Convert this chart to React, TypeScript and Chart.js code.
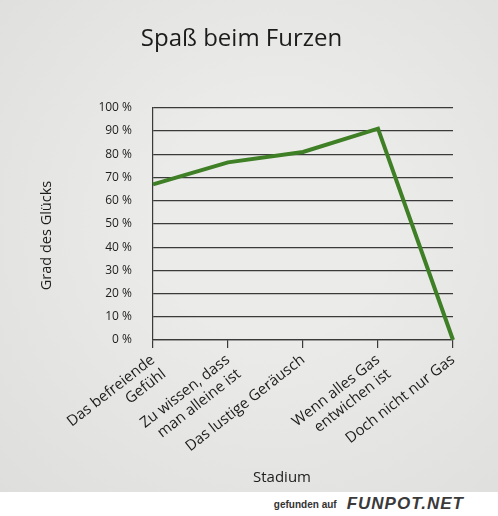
import { useEffect, useRef } from "react"
import { Chart, type ChartConfiguration, type Plugin, registerables } from "chart.js"

Chart.register(...registerables)

const stages: (string | string[])[] = [
  ["Das befreiende", "Gefühl"],
  ["Zu wissen, dass", "man alleine ist"],
  "Das lustige Geräusch",
  ["Wenn alles Gas", "entwichen ist"],
  "Doch nicht nur Gas",
]
const happiness = [67, 76.5, 81, 91, 0]
const yTicks = [0, 10, 20, 30, 40, 50, 60, 70, 80, 90, 100]
const xTitle = "Stadium"
const yTitle = "Grad des Glücks"

const FONT = "'Open Sans', 'Noto Sans', sans-serif"
const INK = "#1c1c1c"

// axis titles sit a little off-centre in the original, so draw them by hand
const axisTitles: Plugin = {
  id: "axisTitles",
  afterDraw(chart) {
    const { ctx, chartArea } = chart
    ctx.save()
    ctx.fillStyle = INK
    ctx.textAlign = "center"
    ctx.textBaseline = "middle"
    ctx.font = `15px ${FONT}`
    ctx.fillText(xTitle, chartArea.left + chartArea.width * 0.43, 478)
    ctx.translate(47, chartArea.top + chartArea.height * 0.55)
    ctx.rotate(-Math.PI / 2)
    ctx.font = `14.5px ${FONT}`
    ctx.fillText(yTitle, 0, 0)
    ctx.restore()
  },
}

export default function App() {
  const chartRef = useRef<HTMLCanvasElement>(null)
  const chartInstance = useRef<Chart | null>(null)

  useEffect(() => {
    if (!chartRef.current) return
    if (chartInstance.current) chartInstance.current.destroy()
    const ctx = chartRef.current.getContext("2d")
    if (!ctx) return

    const config: ChartConfiguration = {
      type: "line",
      data: {
        labels: stages,
        datasets: [
          {
            label: yTitle,
            data: happiness,
            borderColor: "#3f7f26",
            borderWidth: 4,
            pointRadius: 0,
            tension: 0,
          },
        ],
      },
      options: {
        animation: false,
        responsive: false,
        layout: { padding: { left: 30, right: 45, top: 0, bottom: 0 } },
        plugins: {
          legend: { display: false },
          tooltip: { enabled: false },
          title: {
            display: true,
            text: "Spaß beim Furzen",
            color: INK,
            font: { family: FONT, size: 24, weight: "normal" },
            padding: { top: 25, bottom: 54 },
          },
        },
        scales: {
          x: {
            offset: false,
            afterFit: (scale: any) => {
              scale.height = 152
            },
            grid: {
              drawOnChartArea: false,
              drawTicks: true,
              tickLength: 8,
              color: "#3a3a3a",
              lineWidth: 1.2,
            },
            border: { display: true, color: "#3a3a3a", width: 1.2 },
            ticks: {
              color: INK,
              font: { family: FONT, size: 15 },
              minRotation: 38,
              maxRotation: 38,
              autoSkip: false,
              padding: 3,
            },
          },
          y: {
            min: 0,
            max: 100,
            afterBuildTicks: (scale: any) => {
              scale.ticks = yTicks.map((v) => ({ value: v }))
            },
            afterFit: (scale: any) => {
              scale.width = 123
            },
            grid: {
              color: "#3a3a3a",
              lineWidth: 1.2,
              drawTicks: false,
            },
            border: { display: true, color: "#3a3a3a", width: 1.2 },
            ticks: {
              color: INK,
              font: { family: FONT, size: 12 },
              padding: 21,
              callback: (v) => v + " %",
            },
          },
        },
      },
      plugins: [axisTitles],
    }

    chartInstance.current = new Chart(ctx, config)
    return () => {
      if (chartInstance.current) chartInstance.current.destroy()
    }
  }, [])

  return (
    <div style={{ position: "absolute", left: 0, top: 0, width: 498, height: 516, background: "#fff" }}>
      <div
        style={{
          width: 498,
          height: 492,
          background: "radial-gradient(ellipse at 55% 45%, #ebebe9 30%, #dededc 100%)",
        }}
      >
        <canvas ref={chartRef} width={498} height={492} />
      </div>
      <div
        style={{
          height: 24,
          display: "flex",
          justifyContent: "flex-end",
          alignItems: "center",
          paddingRight: 34,
          fontFamily: "'Liberation Sans', Arial, sans-serif",
          color: "#333",
        }}
      >
        <span style={{ fontSize: 10, fontWeight: "bold", marginRight: 10 }}>gefunden auf</span>
        <span style={{ fontSize: 17, fontWeight: "bold", fontStyle: "italic", letterSpacing: 1, color: "#3a3a3a" }}>
          FUNPOT.NET
        </span>
      </div>
    </div>
  )
}
